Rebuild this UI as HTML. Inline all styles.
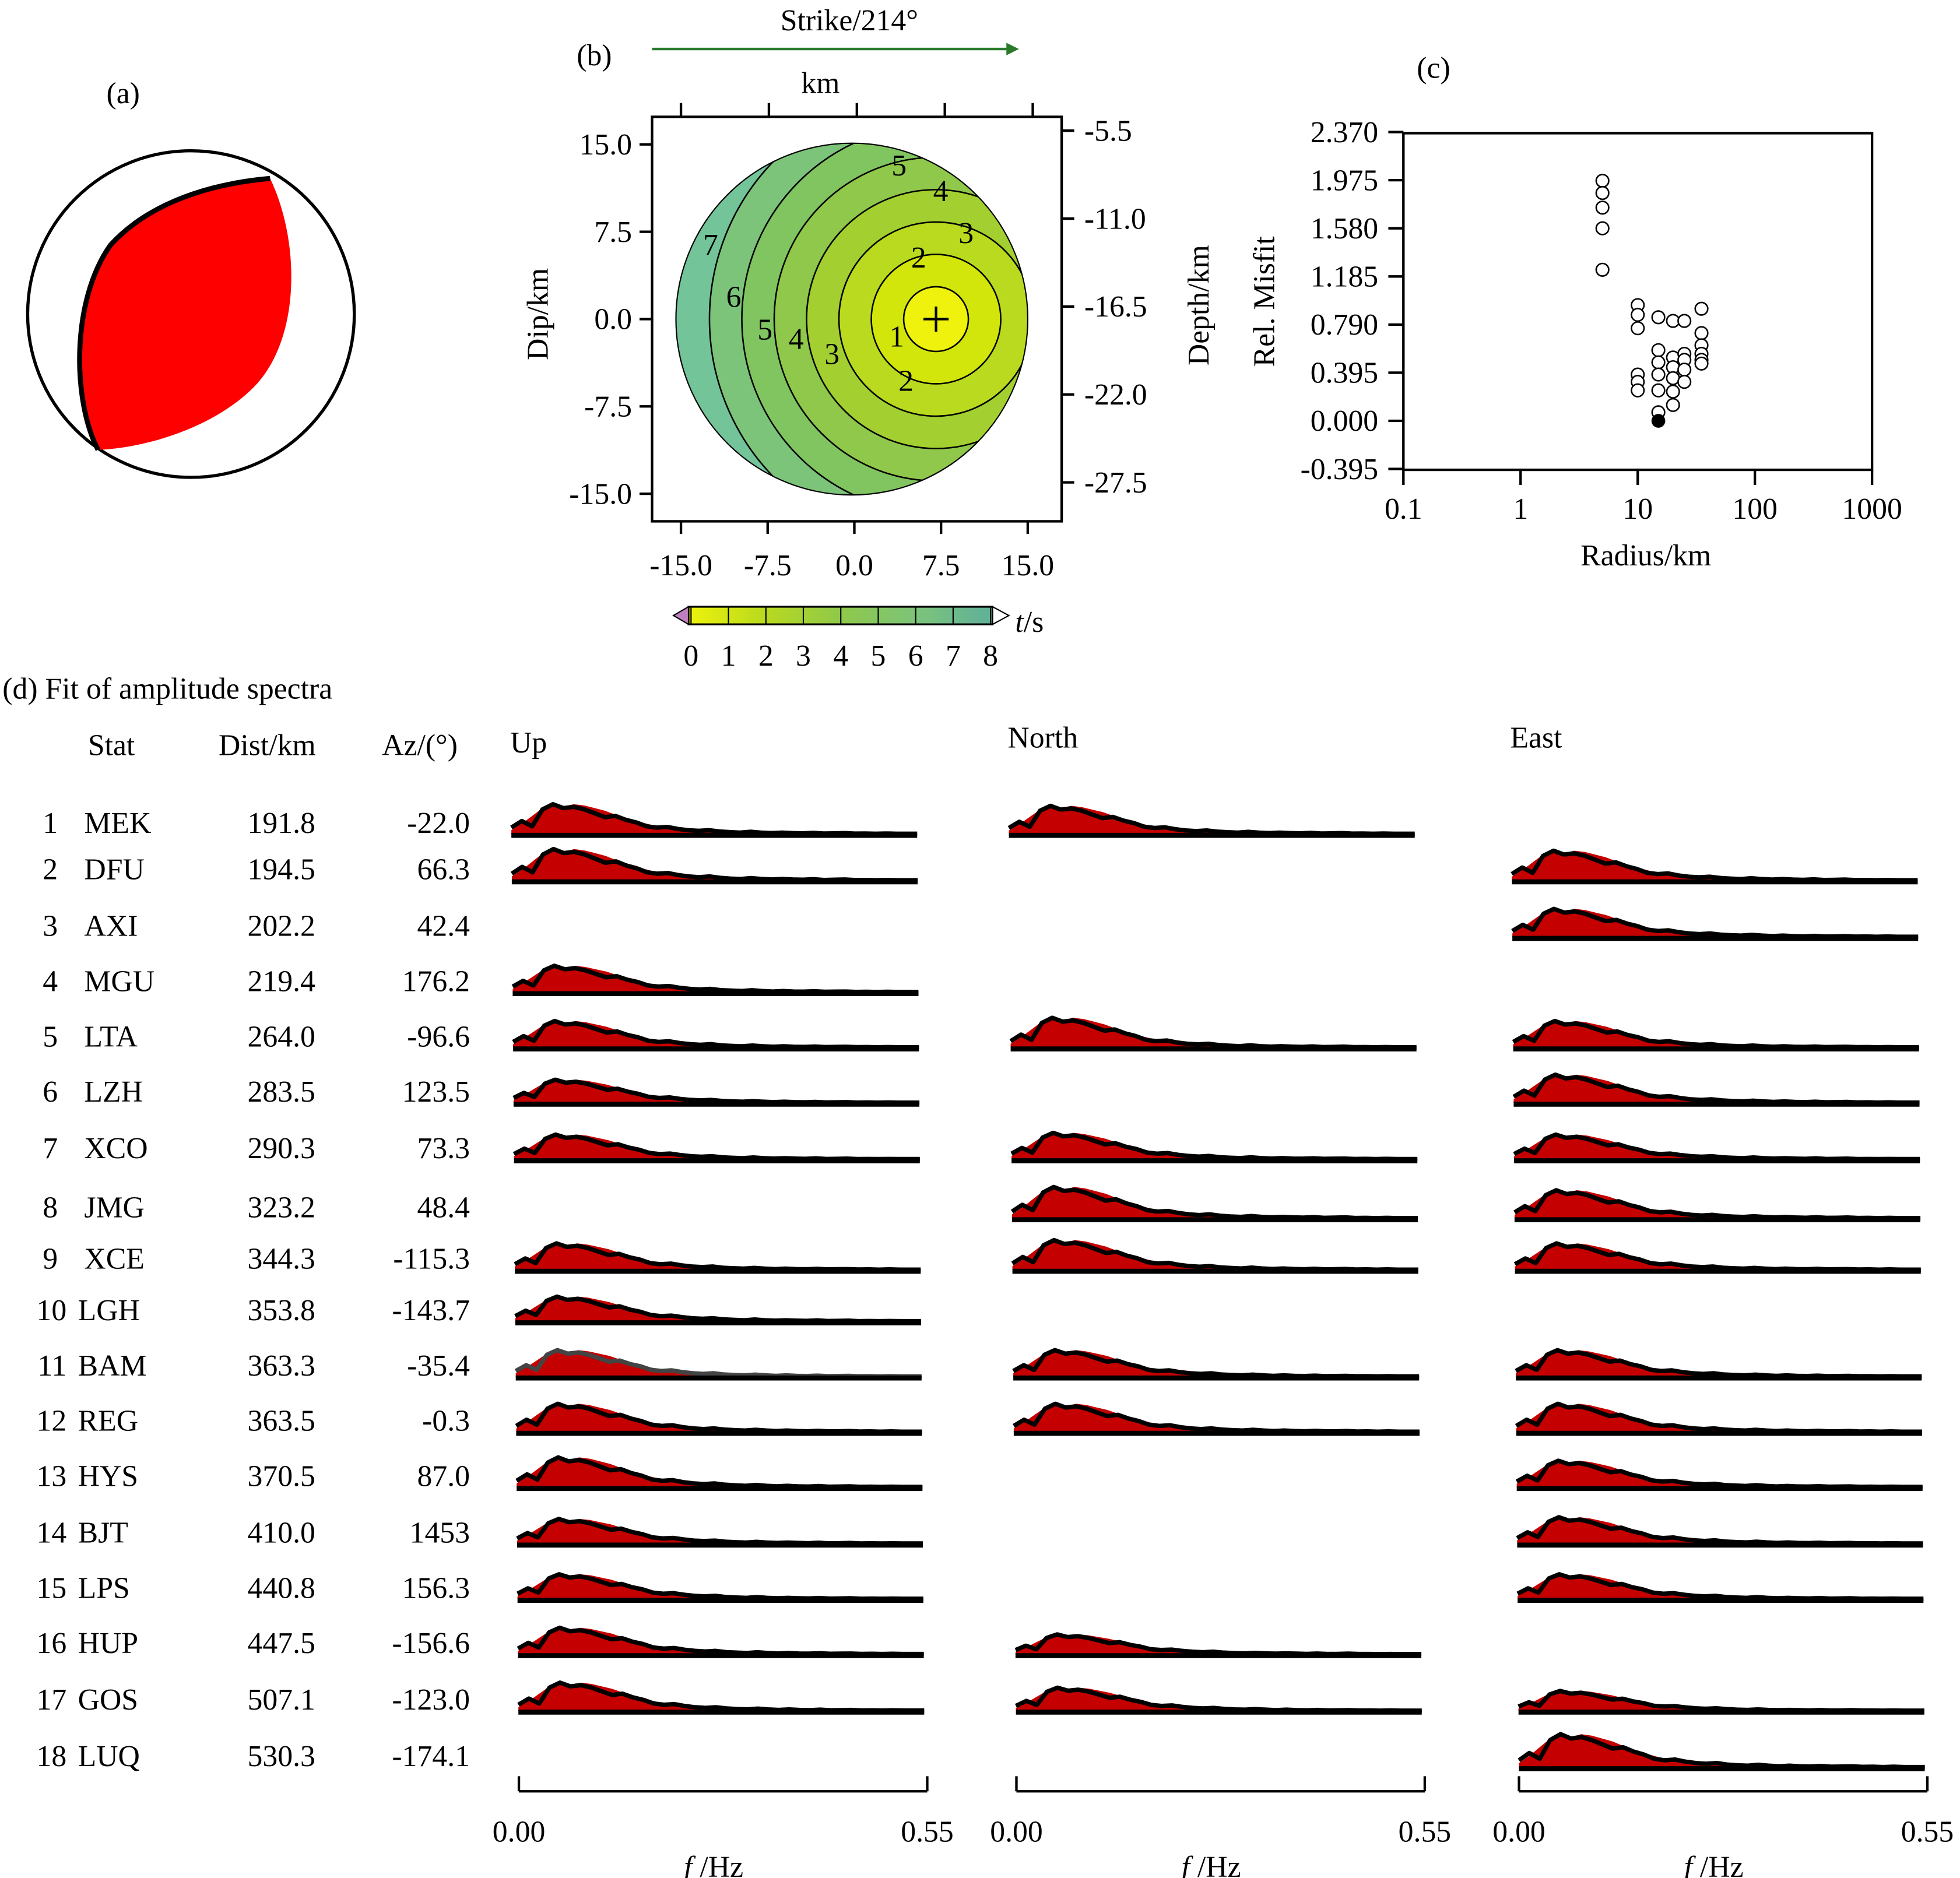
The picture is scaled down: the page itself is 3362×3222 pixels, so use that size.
<!DOCTYPE html>
<html><head><meta charset="utf-8"><style>
html,body{margin:0;padding:0;background:#fff}
svg{display:block}
text{font-family:"Liberation Serif","Times New Roman",serif;fill:#000}
</style></head><body>
<svg id="fig" xmlns="http://www.w3.org/2000/svg" width="3362" height="3222" viewBox="0 0 1560 1495" font-family="Liberation Serif, serif">
<defs>
<clipPath id="disk"><circle cx="678" cy="254" r="140"/></clipPath>
<linearGradient id="cbar" x1="0" x2="1"><stop offset="0" stop-color="#eef20c"/><stop offset="0.25" stop-color="#b9da1e"/><stop offset="0.5" stop-color="#8fc84a"/><stop offset="0.75" stop-color="#7cc47a"/><stop offset="1" stop-color="#5fb09a"/></linearGradient>
</defs>
<g>
<text x="98" y="82" font-size="24" text-anchor="middle">(a)</text>
<circle cx="152" cy="250" r="130" fill="#fff" stroke="#000" stroke-width="2.5"/>
<path d="M215,142 C238,190 240,265 205,305 C175,338 120,356 80,358 C58,320 56,240 88,195 C120,160 170,146 215,142 Z" fill="#ff0000"/>
<path d="M215,142 C170,146 120,160 88,195 C56,240 58,320 78,358" fill="none" stroke="#000" stroke-width="4"/>
</g>
<g id="pb">
<text x="473" y="52" font-size="24" text-anchor="middle">(b)</text>
<text x="676" y="24" font-size="24" text-anchor="middle">Strike/214°</text>
<line x1="519" y1="39" x2="803" y2="39" stroke="#2a7a2a" stroke-width="2"/>
<path d="M801,34 L811,39 L801,44 Z" fill="#2a7a2a"/>
<text x="653" y="74" font-size="24" text-anchor="middle">km</text>
<rect x="519" y="93" width="326" height="322" fill="none" stroke="#000" stroke-width="2"/>
<g id="bands" clip-path="url(#disk)"></g>
<circle cx="678" cy="254" r="140" fill="none" stroke="#000" stroke-width="1"/>
<g id="cont" clip-path="url(#disk)"></g>
<g id="clab"></g>
<g id="baxes"></g>
<text transform="translate(436,250) rotate(-90)" font-size="24" text-anchor="middle">Dip/km</text>
<text transform="translate(962,243) rotate(-90)" font-size="24" text-anchor="middle">Depth/km</text>
<rect x="548" y="483" width="242" height="14" fill="url(#cbar)" stroke="#000" stroke-width="1.5"/>
<path d="M548,483 L536,490 L548,497 Z" fill="#c080c0" stroke="#000"/>
<path d="M790,483 L803,490 L790,497 Z" fill="#fff" stroke="#000"/>
<text x="808" y="503" font-size="24" font-style="italic">t<tspan font-style="normal">/s</tspan></text>
<g id="cbt"></g>
</g>
<g id="pc">
<text x="1141" y="62" font-size="24" text-anchor="middle">(c)</text>
<rect x="1117" y="106" width="373" height="268" fill="none" stroke="#000" stroke-width="2"/>
<text transform="translate(1014,240) rotate(-90)" font-size="24" text-anchor="middle">Rel. Misfit</text>
<text x="1310" y="450" font-size="24" text-anchor="middle">Radius/km</text>
</g>
<g id="pd">
<text x="2" y="556" font-size="24">(d) Fit of amplitude spectra</text>
<text x="70" y="601" font-size="24">Stat</text>
<text x="174" y="601" font-size="24">Dist/km</text>
<text x="304" y="601" font-size="24">Az/(°)</text>
<text x="406" y="599" font-size="24">Up</text>
<text x="802" y="595" font-size="24">North</text>
<text x="1202" y="595" font-size="24">East</text>
</g>
</svg>
<script>
const NS='http://www.w3.org/2000/svg';
function mk(tag,attrs,parent,txt){const e=document.createElementNS(NS,tag);for(const k in attrs)e.setAttribute(k,attrs[k]);if(txt!==undefined)e.textContent=txt;parent.appendChild(e);return e;}

// ---------- Panel b data ----------
const bContourTimes=[1,2,3,4,5,6,7];
const bBandColors=['#eef20c','#d2e60c','#b9da1e','#a3d030','#8fc84a','#80c560','#7cc47a','#74c49a'];
const bHypo=[7.5,0.0];
const bRuptureVel=2.8;
const bTicks=[-15.0,-7.5,0.0,7.5,15.0];
const bDepthTicks=['-5.5','-11.0','-16.5','-22.0','-27.5'];
const bCbarTicks=[0,1,2,3,4,5,6,7,8];
const bLabelPos=[[1,4.1,-1.5],[2,6.0,5.3],[2,4.9,-5.3],[3,-1.5,-3.0],[3,10.1,7.4],[4,-4.6,-1.7],[4,7.9,11.0],[5,-7.3,-0.9],[5,4.3,13.2],[6,-10.0,1.9],[7,-12.0,6.4]];

const bx=v=>676+v*9.2, by=v=>254-v*9.27;
const bands=document.getElementById('bands'), cont=document.getElementById('cont'), clab=document.getElementById('clab'), baxes=document.getElementById('baxes');
for(let i=bBandColors.length-1;i>=0;i--){
  const r=(i+1)*bRuptureVel*9.2*(i===bBandColors.length-1?3:1);
  const c=mk('circle',{cx:bx(bHypo[0]),cy:by(bHypo[1]),r:r,fill:bBandColors[i]},bands);
  
  
}
bContourTimes.forEach(t=>{
  const c=mk('circle',{cx:bx(bHypo[0]),cy:by(bHypo[1]),r:t*bRuptureVel*9.2,fill:'none',stroke:'#000','stroke-width':1.2},cont);
  
  
});
bLabelPos.forEach(p=>{
  const t=mk('text',{x:bx(p[1]),y:by(p[2])+8,'font-size':24,'text-anchor':'middle'},clab,String(p[0]));
  
  
});
{const h=mk('path',{d:`M${bx(bHypo[0])-10},${by(bHypo[1])} h20 M${bx(bHypo[0])},${by(bHypo[1])-10} v20`,stroke:'#000','stroke-width':2},clab);

}
bTicks.forEach((v,i)=>{
  mk('line',{x1:bx(v)+4,x2:bx(v)+4,y1:415,y2:425,stroke:'#000','stroke-width':2},baxes);
  mk('line',{x1:542+i*70,x2:542+i*70,y1:82,y2:93,stroke:'#000','stroke-width':2},baxes);
  const xl=mk('text',{x:bx(v)+4,y:458,'font-size':24,'text-anchor':'middle'},baxes,v.toFixed(1));
  
  
  mk('line',{x1:509,x2:519,y1:by(-v),y2:by(-v),stroke:'#000','stroke-width':2},baxes);
  const yl=mk('text',{x:503,y:by(-v)+8,'font-size':24,'text-anchor':'end'},baxes,(-v).toFixed(1));
  
  
  mk('line',{x1:845,x2:855,y1:104+i*70,y2:104+i*70,stroke:'#000','stroke-width':2},baxes);
  const dl=mk('text',{x:863,y:112+i*70,'font-size':24},baxes,bDepthTicks[i]);
  
  
});
const cbt=document.getElementById('cbt');
bCbarTicks.forEach(v=>{
  const x=550+v*29.8;
  mk('line',{x1:x,x2:x,y1:483,y2:497,stroke:'#000','stroke-width':1},cbt);
  const t=mk('text',{x:x,y:530,'font-size':24,'text-anchor':'middle'},cbt,String(v));
  
  
});

// ---------- Panel c data ----------
const cYTicks=['2.370','1.975','1.580','1.185','0.790','0.395','0.000','-0.395'];
const cXTicks=['0.1','1','10','100','1000'];
const cRadius=[5,5,5,5,5,10,10,10,10,10,10,15,15,15,15,15,15,20,20,20,20,20,20,25,25,25,25,25,35,35,35,35,35,35];
const cMisfit=[1.97,1.87,1.75,1.58,1.24,0.95,0.87,0.76,0.38,0.32,0.25,0.85,0.58,0.48,0.38,0.25,0.07,0.82,0.52,0.44,0.35,0.24,0.13,0.82,0.55,0.50,0.42,0.32,0.92,0.72,0.62,0.55,0.50,0.47];
const cBest=[15,0.0];
const pc=document.getElementById('pc');
const cx=r=>1117+(Math.log10(r)+1)*93.25, cy=m=>335-m*97;
cYTicks.forEach(s=>{const y=cy(parseFloat(s));
  mk('line',{x1:1105,x2:1117,y1:y,y2:y,stroke:'#000','stroke-width':2},pc);
  const t=mk('text',{x:1097,y:y+8,'font-size':24,'text-anchor':'end'},pc,s);
  
  });
cXTicks.forEach(s=>{const x=cx(parseFloat(s));
  mk('line',{x1:x,x2:x,y1:374,y2:386,stroke:'#000','stroke-width':2},pc);
  const t=mk('text',{x:x,y:413,'font-size':24,'text-anchor':'middle'},pc,s);
  
  });
cRadius.forEach((r,i)=>{
  const c=mk('circle',{cx:cx(r),cy:cy(cMisfit[i]),r:5,fill:'#fff',stroke:'#000','stroke-width':1.2},pc);
  
  
});
{const c=mk('circle',{cx:cx(cBest[0]),cy:cy(cBest[1]),r:5.5,fill:'#000'},pc);

}

// ---------- Panel d data ----------
const stations=['MEK','DFU','AXI','MGU','LTA','LZH','XCO','JMG','XCE','LGH','BAM','REG','HYS','BJT','LPS','HUP','GOS','LUQ'];
const distances=['191.8','194.5','202.2','219.4','264.0','283.5','290.3','323.2','344.3','353.8','363.3','363.5','370.5','410.0','440.8','447.5','507.1','530.3'];
const azimuths=['-22.0','66.3','42.4','176.2','-96.6','123.5','73.3','48.4','-115.3','-143.7','-35.4','-0.3','87.0','1453','156.3','-156.6','-123.0','-174.1'];
const rowY=[655,692,737,781,825,869,914,961,1002,1043,1087,1131,1175,1220,1264,1308,1353,1398];
const hasUp   =[1,1,0,1,1,1,1,0,1,1,1,1,1,1,1,1,1,0];
const hasNorth=[1,0,0,0,1,0,1,1,1,0,1,1,0,0,0,1,1,0];
const hasEast =[0,1,1,0,1,1,1,1,1,0,1,1,1,1,1,0,1,1];
const obsShape=[3,8,14,20,22,21,23,22,20,18,15,12,10,8,6,5,4,3.5,3,2.5,2,2,1.5,1.5,1.2,1,1,1,0.8,0.8,0.6,0.6,0.5,0.5,0.4,0.4,0.3,0.3,0.3,0.2];
const synShape=[5,10,6,19,23,20,21,19,16,13,14,11,9,6,5,5.5,4,3,2.5,3,2,1.5,1.2,1.8,1.2,0.8,1.2,0.8,0.6,1,0.5,0.6,0.8,0.4,0.5,0.3,0.5,0.3,0.3,0.3];
const upAmp=[0.9,0.95,0,0.8,0.8,0.7,0.75,0,0.8,0.75,0.8,0.85,0.9,0.75,0.75,0.8,0.85,0];
const northAmp=[0.85,0,0,0,0.9,0,0.8,0.95,0.9,0,0.8,0.85,0,0,0,0.6,0.7,0];
const eastAmp=[0,0.9,0.85,0,0.8,0.85,0.75,0.85,0.8,0,0.8,0.85,0.8,0.8,0.75,0,0.6,1.0];
const freqTicks=['0.00','0.55'];

const pd=document.getElementById('pd');
rowY.forEach((y,i)=>{
  const n=mk('text',{x:i<9?46:53,y:y+8,'font-size':24,'text-anchor':'end'},pd,String(i+1));
  
  
  const a=mk('text',{x:i<9?67:62,y:y+8,'font-size':24},pd,stations[i]);
  
  
  const b=mk('text',{x:224,y:y+8,'font-size':24,'text-anchor':'middle'},pd,distances[i]);
  
  
  const c=mk('text',{x:374,y:y+8,'font-size':24,'text-anchor':'end'},pd,azimuths[i]);
  
  
});
const cols=[[407,hasUp,upAmp,'up'],[803,hasNorth,northAmp,'north'],[1203,hasEast,eastAmp,'east']];
cols.forEach(([cx0,has,amp,nm])=>{
  rowY.forEach((y,i)=>{
    if(!has[i])return;
    const x0=cx0+i*0.35, base=y+9, w=323, n=obsShape.length;
    const fx=k=>x0+(k/(n-1))*w;
    const sc=amp[i]*1.15;
    let d=`M${x0},${base}`;
    obsShape.forEach((v,k)=>{d+=` L${fx(k).toFixed(1)},${(base-v*sc).toFixed(1)}`;});
    d+=` L${x0+w},${base} Z`;
    const f=mk('path',{d:d,fill:'#c40000'},pd);
    
    
    let l='';
    synShape.forEach((v,k)=>{l+=(k?' L':'M')+fx(k).toFixed(1)+','+(base-v*sc).toFixed(1);});
    const s=mk('path',{d:l,fill:'none',stroke:nm==='up'&&i===10?'#444':'#000','stroke-width':3.5,'stroke-linejoin':'round'},pd);
    
    
    const bl=mk('line',{x1:x0,x2:x0+w,y1:base+1,y2:base+1,stroke:'#000','stroke-width':4},pd);
    
    
  });
  const ax0=cx0+6;
  const ax=mk('line',{x1:ax0,x2:ax0+325,y1:1426,y2:1426,stroke:'#000','stroke-width':2},pd);
  
  
  freqTicks.forEach((s,j)=>{
    const x=ax0+j*325;
    mk('line',{x1:x,x2:x,y1:1414,y2:1426,stroke:'#000','stroke-width':2},pd);
    const t=mk('text',{x:x,y:1466,'font-size':24,'text-anchor':'middle'},pd,s);
    
    
  });
  const tt=mk('text',{x:ax0+155,y:1494,'font-size':24,'text-anchor':'middle'},pd);
  
  
  mk('tspan',{'font-style':'italic'},tt,'f ');
  mk('tspan',{},tt,'/Hz');
});
</script>
</body></html>
